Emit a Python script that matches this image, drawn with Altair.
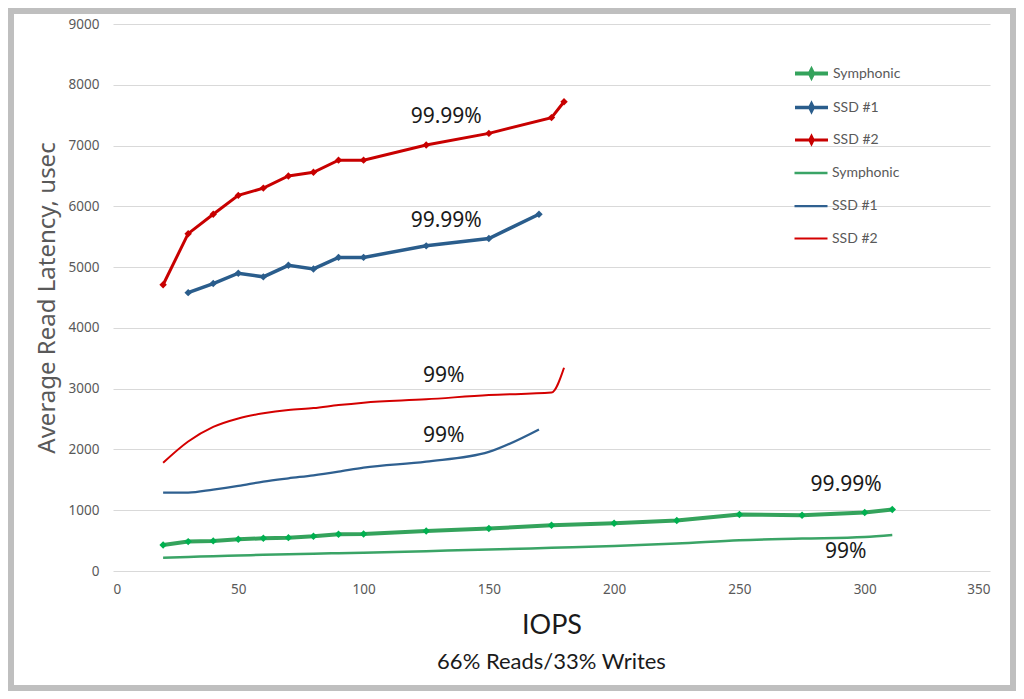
import altair as alt
import pandas as pd

# ---------------- data ----------------
series_names = ["Symphonic", "SSD #1", "SSD #2"]

iops_sym = [20, 30, 40, 50, 60, 70, 80, 90, 100, 125, 150, 175, 200, 225, 250, 275, 300, 311]
sym_p9999 = [429, 484, 495, 522, 538, 549, 571, 604, 610, 659, 698, 753, 786, 830, 929, 918, 962, 1011]
sym_p99 = [220, 232, 243, 256, 266, 275, 285, 293, 302, 327, 352, 382, 412, 451, 505, 533, 560, 593]

iops_ssd1_p9999 = [30, 40, 50, 60, 70, 80, 90, 100, 125, 150, 170]
ssd1_p9999 = [4580, 4730, 4900, 4840, 5030, 4970, 5160, 5160, 5350, 5470, 5870]
iops_ssd1_p99 = [20, 30, 40, 50, 60, 70, 80, 90, 100, 125, 150, 170]
ssd1_p99 = [1290, 1290, 1340, 1400, 1470, 1525, 1575, 1635, 1700, 1800, 1960, 2330]

iops_ssd2 = [20, 30, 40, 50, 60, 70, 80, 90, 100, 125, 150, 175, 180]
ssd2_p9999 = [4710, 5550, 5870, 6180, 6300, 6500, 6560, 6760, 6760, 7010, 7200, 7460, 7720]
ssd2_p99 = [1780, 2130, 2370, 2510, 2595, 2650, 2680, 2730, 2770, 2825, 2895, 2935, 3345]

ann_text = ["99.99%", "99.99%", "99%", "99%", "99.99%", "99%"]
ann_iops = [133, 133, 132, 132, 292.6, 292.4]
ann_latency = [7470, 5760, 3210, 2220, 1415, 313]

x_ticks = [0, 50, 100, 150, 200, 250, 300, 350]
y_ticks = [0, 1000, 2000, 3000, 4000, 5000, 6000, 7000, 8000, 9000]

line_colors_hi = ["#34A35C", "#2A5D8C", "#C80000"]
marker_colors = ["#00B050", "#2A5D8C", "#C80000"]
line_colors_lo = ["#3AA466", "#2F6090", "#D40000"]


def frame(name, xs, ys):
    return pd.DataFrame({"series": name, "iops": xs, "latency": ys})


df_hi = pd.concat([
    frame("Symphonic", iops_sym, sym_p9999),
    frame("SSD #1", iops_ssd1_p9999, ssd1_p9999),
    frame("SSD #2", iops_ssd2, ssd2_p9999),
], ignore_index=True)

df_lo = pd.concat([
    frame("Symphonic", iops_sym, sym_p99),
    frame("SSD #1", iops_ssd1_p99, ssd1_p99),
    frame("SSD #2", iops_ssd2, ssd2_p99),
], ignore_index=True)

df_ann = pd.DataFrame({"label": ann_text, "iops": ann_iops, "latency": ann_latency})

W, H = 877, 547
TICK_FONT = "Noto Sans"
TEXT_FONT = "Lato"

x_enc = alt.X(
    "iops:Q",
    scale=alt.Scale(domain=[0, 350], nice=False, zero=False),
    axis=alt.Axis(
        values=x_ticks, title="IOPS", grid=False, domain=False, ticks=False,
        labelPadding=11, labelFontSize=13.5, labelColor="#595959", labelFont=TICK_FONT,
        titleFont=TEXT_FONT, titleFontSize=27, titleFontWeight="normal",
        titleColor="#1a1a1a", titlePadding=17,
    ),
)
y_enc = alt.Y(
    "latency:Q",
    scale=alt.Scale(domain=[0, 9000], nice=False),
    axis=alt.Axis(
        values=y_ticks, format="d", title="Average Read Latency, usec", grid=True,
        gridColor="#D9D9D9", gridWidth=1, domain=False, ticks=False,
        labelPadding=14, labelFontSize=13.5, labelColor="#595959", labelFont=TICK_FONT,
        titleFont=TICK_FONT, titleFontSize=24, titleFontWeight="normal",
        titleColor="#595959", titlePadding=9,
    ),
)

legend_hi = alt.Legend(
    title=None, orient="none", legendX=680, legendY=31,
    symbolType="M-1,0H1M-0.1,0L0,-0.2L0.1,0L0,0.2Z",
    symbolSize=1089, symbolStrokeWidth=3, rowPadding=4, padding=0,
    labelOffset=3, labelFontSize=14, labelColor="#595959", labelFont=TEXT_FONT,
)
legend_lo = alt.Legend(
    title=None, orient="none", legendX=680, legendY=131,
    symbolType="stroke", symbolSize=1089, symbolStrokeWidth=2, rowPadding=8, padding=0,
    labelOffset=3, labelFontSize=14, labelColor="#595959", labelFont=TEXT_FONT,
)

frame_rect = alt.Chart(pd.DataFrame({"k": [0]})).mark_rect(
    fillOpacity=0, stroke="#BFBFBF", strokeWidth=6
).encode(x=alt.value(-102), x2=alt.value(900), y=alt.value(-13), y2=alt.value(664))

lines_lo = alt.Chart(df_lo).mark_line(interpolate="monotone").encode(
    x=x_enc, y=y_enc,
    color=alt.Color("series:N", scale=alt.Scale(domain=series_names, range=line_colors_lo), legend=legend_lo),
    strokeWidth=alt.StrokeWidth("series:N", scale=alt.Scale(domain=series_names, range=[2.5, 2, 2]), legend=None),
)

lines_hi = alt.Chart(df_hi).mark_line().encode(
    x=x_enc, y=y_enc,
    color=alt.Color("series:N", scale=alt.Scale(domain=series_names, range=line_colors_hi), legend=legend_hi),
    strokeWidth=alt.StrokeWidth("series:N", scale=alt.Scale(domain=series_names, range=[4, 3, 3]), legend=None),
)

points_hi = alt.Chart(df_hi).mark_point(shape="diamond", filled=True, size=55, opacity=1).encode(
    x=x_enc, y=y_enc,
    color=alt.Color("series:N", scale=alt.Scale(domain=series_names, range=marker_colors), legend=None),
)

labels = alt.Chart(df_ann).mark_text(
    font=TICK_FONT, fontSize=21, color="#1a1a1a", align="center", baseline="middle"
).encode(x=x_enc, y=y_enc, text="label:N")

chart = alt.layer(frame_rect, lines_lo, lines_hi, points_hi, labels).resolve_scale(
    color="independent", strokeWidth="independent"
).properties(
    width=W, height=H,
    autosize=alt.AutoSizeParams(type="none"),
    padding={"left": 105, "top": 16, "right": 26, "bottom": 120},
    background="white",
    title=alt.TitleParams(
        "66% Reads/33% Writes", orient="bottom", anchor="middle", fontSize=22,
        fontWeight="normal", font=TEXT_FONT, color="#1a1a1a", offset=-39,
    ),
).configure_view(stroke=None)

chart.save("out.html", embed_options={"renderer": "svg", "actions": False})
